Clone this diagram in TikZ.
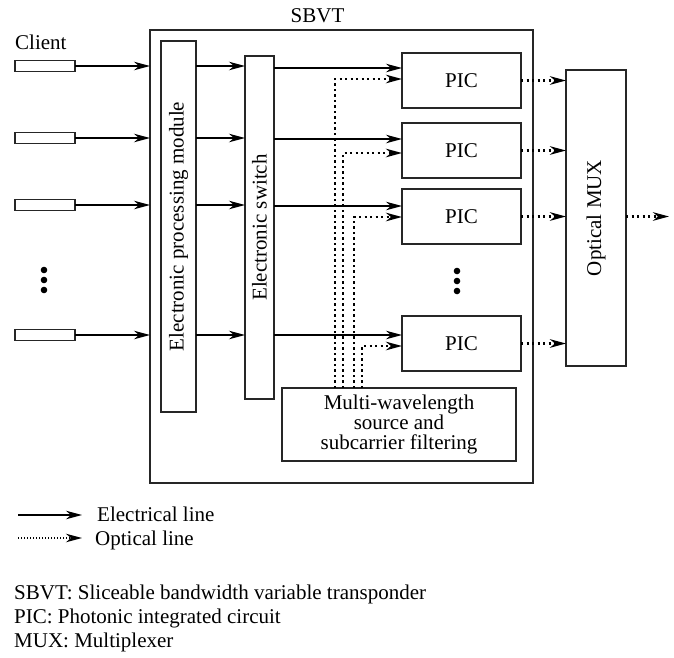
\documentclass[tikz,border=0pt]{standalone}
\usepackage{fontspec}
\setmainfont{Liberation Serif}
\usetikzlibrary{arrows.meta}

\begin{document}
\begin{tikzpicture}
  [x=1pt,y=-1pt,font=\fontsize{21}{20}\selectfont,
   >={Stealth[length=16pt,width=8.5pt,inset=5pt]},
   block/.style={rectangle,draw=black!85,line width=1.2pt,align=center,
                 outer sep=0,inner sep=0},
   client/.style={rectangle,draw=black!85,line width=1.1pt,outer sep=0,
                  inner sep=0,minimum width=60pt,minimum height=11pt},
   electrical/.style={draw=black,line width=1.1pt,->},
   optical/.style={draw=black,line width=2.4pt,dash pattern=on 2.4pt off 3.1pt,->},
   legendopt/.style={draw=black,line width=1.2pt,dash pattern=on 1.2pt off 1.8pt,->},
   caption/.style={anchor=base west,inner sep=0}]
  \useasboundingbox (0,0) rectangle (674,657);
  % transponder frame
  \node[block,minimum width=383pt,minimum height=453pt] (sbvt) at (341.5,256.5) {};
  \node[anchor=base,inner sep=0] (sbvtlabel) at (317.5,22) {SBVT};
  % clients
  \node[caption] (clientlabel) at (15,49) {Client};
  \node[client] (client1) at (45,66) {};
  \node[client] (client2) at (45,138) {};
  \node[client] (client3) at (45,205) {};
  \node[client] (client4) at (45,335) {};
  \fill (44,270) circle (3.3);
  \fill (44,280) circle (3.3);
  \fill (44,290) circle (3.3);
  % electronic part
  \node[block,minimum width=35pt,minimum height=371pt] (epm) at (178.5,226.5) {};
  \node[rotate=90] (epmtext) at (epm.center) {Electronic processing module};
  \node[block,minimum width=29pt,minimum height=343pt] (switch) at (259.5,227.5) {};
  \node[rotate=90] (switchtext) at (switch.center) {Electronic switch};
  % photonic part
  \node[block,minimum width=119pt,minimum height=55pt] (pic1) at (461.5,80.5) {PIC};
  \node[block,minimum width=119pt,minimum height=55pt] (pic2) at (461.5,150.5) {PIC};
  \node[block,minimum width=119pt,minimum height=55pt] (pic3) at (461.5,216.5) {PIC};
  \node[block,minimum width=119pt,minimum height=55pt] (pic4) at (461.5,343.5) {PIC};
  \fill (457,271) circle (3.3);
  \fill (457,281) circle (3.3);
  \fill (457,291) circle (3.3);
  \node[block,minimum width=234pt,minimum height=73pt] (source) at (399,424.5)
    {Multi-wavelength\\source and\\subcarrier filtering};
  \node[block,minimum width=60pt,minimum height=296pt] (mux) at (596,218) {};
  \node[rotate=90] (muxtext) at (mux.center) {Optical MUX};
  \coordinate (out) at (669,216.5);
  % electrical lines
  \draw[electrical] (client1.east) -- (client1 -| sbvt.west);
  \draw[electrical] (client2.east) -- (client2 -| sbvt.west);
  \draw[electrical] (client3.east) -- (client3 -| sbvt.west);
  \draw[electrical] (client4.east) -- (client4 -| sbvt.west);
  \draw[electrical] (epm.east |- client1) -- (switch.west |- client1);
  \draw[electrical] (epm.east |- client2) -- (switch.west |- client2);
  \draw[electrical] (epm.east |- client3) -- (switch.west |- client3);
  \draw[electrical] (epm.east |- client4) -- (switch.west |- client4);
  \draw[electrical] ([yshift=-2pt]switch.east |- client1) -- ([yshift=-2pt]pic1.west |- client1);
  \draw[electrical] ([yshift=-1pt]switch.east |- client2) -- ([yshift=-1pt]pic2.west |- client2);
  \draw[electrical] ([yshift=-1pt]switch.east |- client3) -- ([yshift=-1pt]pic3.west |- client3);
  \draw[electrical] (switch.east |- client4) -- (pic4.west |- client4);
  % optical lines
  \draw[optical] ([xshift=53pt]source.north west) |- ([yshift=1.5pt]pic1.west);
  \draw[optical] ([xshift=61pt]source.north west) |- ([yshift=-2.5pt]pic2.west);
  \draw[optical] ([xshift=72pt]source.north west) |- ([yshift=-0.5pt]pic3.west);
  \draw[optical] ([xshift=80pt]source.north west) |- ([yshift=-2.5pt]pic4.west);
  \draw[optical] (pic1.east) -- (pic1 -| mux.west);
  \draw[optical] (pic2.east) -- (pic2 -| mux.west);
  \draw[optical] (pic3.east) -- (pic3 -| mux.west);
  \draw[optical] (pic4.east) -- (pic4 -| mux.west);
  \draw[optical] (mux.east |- out) -- (out);
  % legend
  \coordinate (elecstart) at (18,515);
  \coordinate (elecend) at (82,515);
  \coordinate (optstart) at (18,538);
  \coordinate (optend) at (82,538);
  \node[caption] (eleclabel) at (97,521) {Electrical line};
  \node[caption] (optlabel) at (95,545) {Optical line};
  \draw[electrical] (elecstart) -- (elecend);
  \draw[legendopt] (optstart) -- (optend);
  \node[caption] (abbr1) at (14,599) {SBVT: Sliceable bandwidth variable transponder};
  \node[caption] (abbr2) at (14,623) {PIC: Photonic integrated circuit};
  \node[caption] (abbr3) at (14,647) {MUX: Multiplexer};
\end{tikzpicture}
\end{document}
